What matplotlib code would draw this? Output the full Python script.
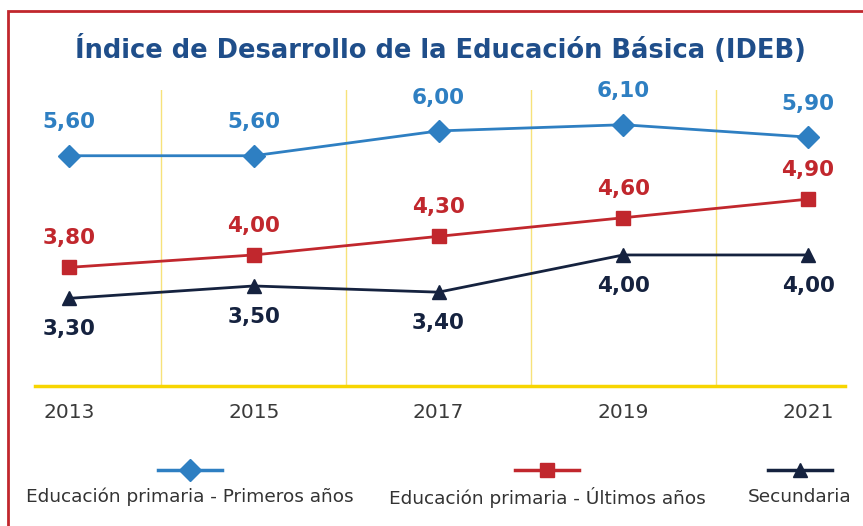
import matplotlib.pyplot as plt
from matplotlib.lines import Line2D
from matplotlib.patches import Rectangle

years = ["2013", "2015", "2017", "2019", "2021"]
primeros = [5.60, 5.60, 6.00, 6.10, 5.90]
ultimos = [3.80, 4.00, 4.30, 4.60, 4.90]
secundaria = [3.30, 3.50, 3.40, 4.00, 4.00]

names = ["Educación primaria - Primeros años",
         "Educación primaria - Últimos años",
         "Secundaria"]
title = "Índice de Desarrollo de la Educación Básica (IDEB)"

blue = "#2e7fc2"
red = "#c1272d"
navy = "#15223f"
yellow = "#f7d500"

plt.rcParams['font.family'] = ['DejaVu Sans']

fig = plt.figure(figsize=(8.63, 5.26), dpi=100)
ax = fig.add_axes([35/863, 1-386/526, 810/863, 296/526])

x = list(range(len(years)))
series = [
    (primeros, blue, 'D', 11, 24),
    (ultimos, red, 's', 10, 21),
    (secundaria, navy, '^', 10, -22),
]
for vals, col, mk, ms, off in series:
    ax.plot(x, vals, color=col, lw=2, marker=mk, ms=ms, zorder=3)
    for xi, v in zip(x, vals):
        ax.annotate(f"{v:.2f}".replace(".", ","), (xi, v), xytext=(0, off),
                    textcoords='offset points', ha='center', va='center',
                    fontsize=15.5, fontweight='bold', color=col)

ax.set_xlim(-0.184, 4.2)
ax.set_ylim(1.887, 6.66)
for xv in [0.5, 1.5, 2.5, 3.5]:
    ax.axvline(xv, color="#f7e27a", lw=1, zorder=1)
for s in ['top', 'right', 'left']:
    ax.spines[s].set_visible(False)
ax.spines['bottom'].set_color(yellow)
ax.spines['bottom'].set_linewidth(2.5)
ax.set_yticks([])
ax.set_xticks(x)
ax.set_xticklabels(years, fontsize=14.5, color="#3a3a3a")
ax.tick_params(axis='x', length=0, pad=12)

fig.text(440/863, 1-50/526, title, ha='center', va='center',
         fontsize=18.5, fontweight='bold', color="#1f4e8a")

# legend: line with a marker in the middle, label below
leg_x = [190, 547, 800]
for cx, name, (vals, col, mk, ms, off) in zip(leg_x, names, series):
    fig.add_artist(Line2D([(cx-32)/863, (cx+32)/863], [1-470/526, 1-470/526],
                          color=col, lw=2.5))
    fig.add_artist(Line2D([cx/863], [1-470/526], color=col, lw=0,
                          marker=mk, ms=ms))
    fig.text(cx/863, 1-497/526, name, ha='center', va='center',
             fontsize=13.3, color="#333333")

# red frame
fig.add_artist(Rectangle((7.5/863, -0.1), 1.2, 1.1-11/526, fill=False,
                         edgecolor="#c1272d", lw=2, transform=fig.transFigure))

fig.savefig("out.png", dpi=100)
